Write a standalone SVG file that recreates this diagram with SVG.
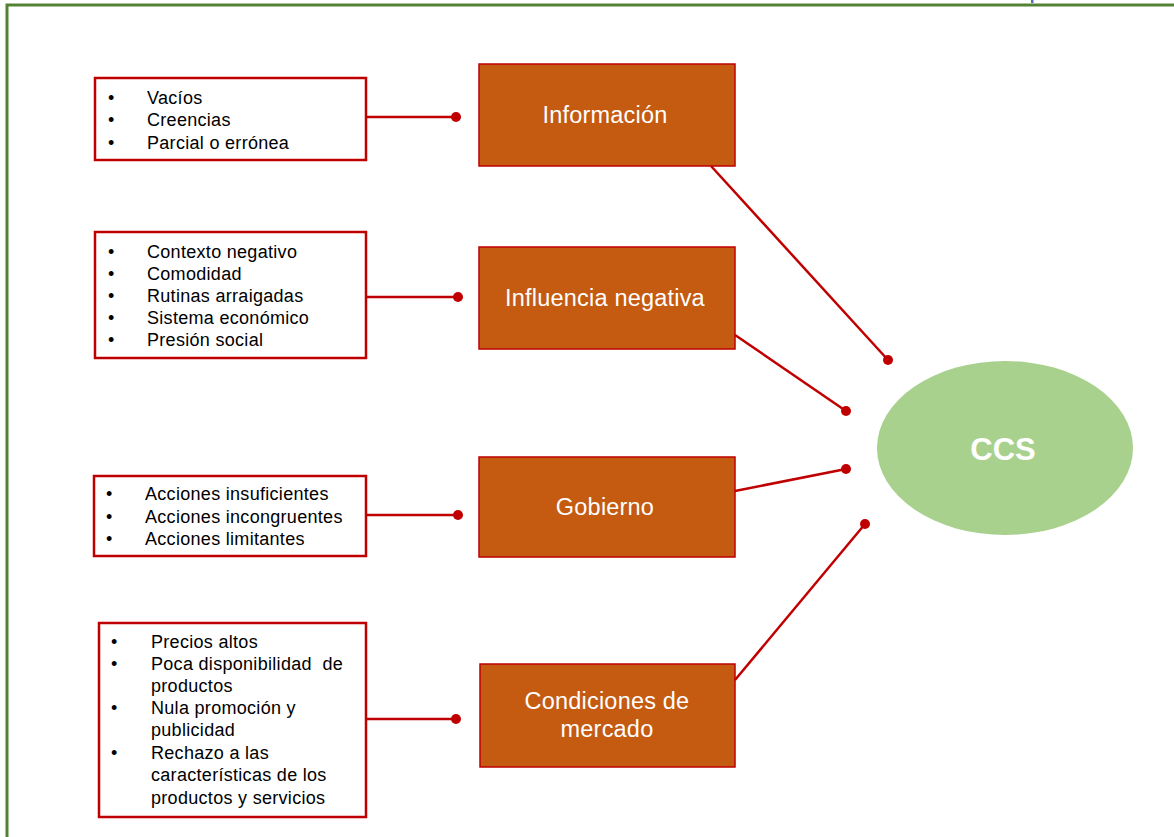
<svg xmlns="http://www.w3.org/2000/svg" width="1174" height="837" viewBox="0 0 1174 837">
<style>
.frame{fill:none;stroke:#548235;stroke-width:3}
.list{fill:#fff;stroke:#C00000;stroke-width:2.5}
.box{fill:#C55A11;stroke:#C00000;stroke-width:1.5}
.lt{font-family:"Liberation Sans",Arial,sans-serif;font-size:18px;letter-spacing:0.3px;fill:#000;white-space:pre}
.bt{font-family:"Liberation Sans",Arial,sans-serif;font-size:23.5px;letter-spacing:0.2px;fill:#fff;text-anchor:middle}
.ct{font-family:"Liberation Sans",Arial,sans-serif;font-size:31px;font-weight:bold;fill:#fff;text-anchor:middle}
.conn line{stroke:#C00000;stroke-width:2.5}
.conn circle{fill:#C00000}
</style>
<rect width="1174" height="837" fill="#fff"/>
<rect class="frame" x="7" y="5" width="1180" height="845"/>
<rect x="1031" y="0" width="2.5" height="3" fill="#4472C4"/>

<g id="list-informacion">
<rect class="list" x="95" y="78" width="271" height="82"/>
<text class="lt" x="108" y="104">•</text><text class="lt" x="147" y="104">Vacíos</text>
<text class="lt" x="108" y="126">•</text><text class="lt" x="147" y="126">Creencias</text>
<text class="lt" x="108" y="149">•</text><text class="lt" x="147" y="149">Parcial o errónea</text>
</g>
<g id="informacion">
<rect class="box" x="479" y="64" width="256" height="102"/>
<text class="bt" x="605" y="123">Información</text>
</g>

<g id="list-influencia">
<rect class="list" x="95" y="232" width="271" height="126"/>
<text class="lt" x="108" y="258">•</text><text class="lt" x="147" y="258">Contexto negativo</text>
<text class="lt" x="108" y="280">•</text><text class="lt" x="147" y="280">Comodidad</text>
<text class="lt" x="108" y="302">•</text><text class="lt" x="147" y="302">Rutinas arraigadas</text>
<text class="lt" x="108" y="324">•</text><text class="lt" x="147" y="324">Sistema económico</text>
<text class="lt" x="108" y="346">•</text><text class="lt" x="147" y="346">Presión social</text>
</g>
<g id="influencia">
<rect class="box" x="479" y="247" width="256" height="102"/>
<text class="bt" x="605" y="306">Influencia negativa</text>
</g>

<g id="list-gobierno">
<rect class="list" x="94" y="476" width="272" height="80"/>
<text class="lt" x="106" y="500">•</text><text class="lt" x="145" y="500">Acciones insuficientes</text>
<text class="lt" x="106" y="523">•</text><text class="lt" x="145" y="523">Acciones incongruentes</text>
<text class="lt" x="106" y="545">•</text><text class="lt" x="145" y="545">Acciones limitantes</text>
</g>
<g id="gobierno">
<rect class="box" x="479" y="457" width="256" height="100"/>
<text class="bt" x="605" y="515">Gobierno</text>
</g>

<g id="list-mercado">
<rect class="list" x="99" y="623" width="267" height="194"/>
<text class="lt" x="111" y="648">•</text><text class="lt" x="151" y="648">Precios altos</text>
<text class="lt" x="111" y="670">•</text><text class="lt" x="151" y="670" xml:space="preserve">Poca disponibilidad  de</text>
<text class="lt" x="151" y="692">productos</text>
<text class="lt" x="111" y="714">•</text><text class="lt" x="151" y="714">Nula promoción y</text>
<text class="lt" x="151" y="736">publicidad</text>
<text class="lt" x="111" y="759">•</text><text class="lt" x="151" y="759">Rechazo a las</text>
<text class="lt" x="151" y="781">características de los</text>
<text class="lt" x="151" y="804">productos y servicios</text>
</g>
<g id="mercado">
<rect class="box" x="480" y="664" width="255" height="103"/>
<text class="bt" x="607" y="709">Condiciones de</text>
<text class="bt" x="607" y="737">mercado</text>
</g>

<g id="ccs">
<ellipse cx="1005" cy="448" rx="128" ry="87" fill="#A9D18E"/>
<text class="ct" x="1003" y="460">CCS</text>
</g>

<g id="connectors" class="conn">
<line x1="366" y1="117" x2="456" y2="117"/><circle cx="456" cy="117" r="5"/>
<line x1="366" y1="297" x2="458" y2="297"/><circle cx="458" cy="297" r="5"/>
<line x1="366" y1="515" x2="458" y2="515"/><circle cx="458" cy="515" r="5"/>
<line x1="366" y1="719" x2="456" y2="719"/><circle cx="456" cy="719" r="5"/>
<line x1="711" y1="166" x2="888" y2="360"/><circle cx="888" cy="360" r="5"/>
<line x1="735" y1="335" x2="846" y2="411"/><circle cx="846" cy="411" r="5"/>
<line x1="735" y1="491" x2="846" y2="469"/><circle cx="846" cy="469" r="5"/>
<line x1="735" y1="680" x2="865" y2="524"/><circle cx="865" cy="524" r="5"/>
</g>
</svg>
